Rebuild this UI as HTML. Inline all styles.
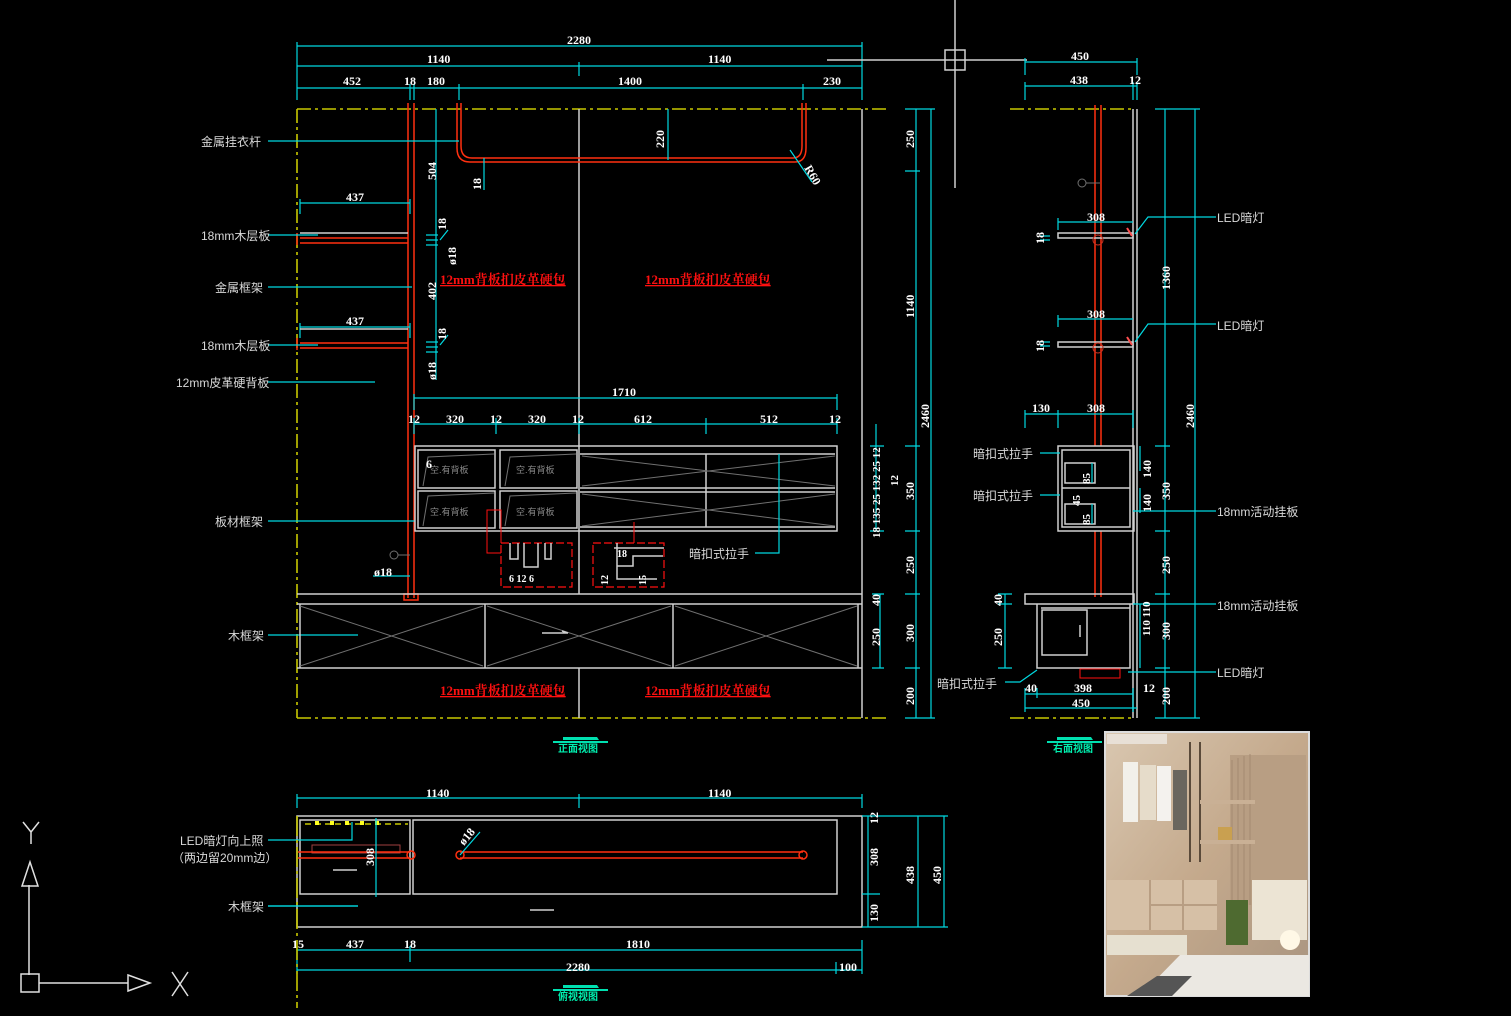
<!DOCTYPE html>
<html><head><meta charset="utf-8"><style>
html,body{margin:0;padding:0;background:#000;}
svg{display:block}
text{font-family:"Liberation Serif","Noto Serif CJK SC",serif;}
.n{fill:#fff;font-size:12px;font-weight:bold;}
.l{fill:#d8d8d8;font-size:12px;font-family:"Liberation Sans","Noto Sans CJK SC",sans-serif;}
.r{fill:#ff1010;font-size:13px;font-weight:bold;text-decoration:underline;}
.c{stroke:#00d8e0;stroke-width:1.2;fill:none}
.w{stroke:#d0d0d0;stroke-width:1.5;fill:none}
.g{stroke:#707070;stroke-width:1;fill:none}
.rd{stroke:#ff3010;stroke-width:1.5;fill:none}
.y{stroke:#c8c800;stroke-width:1.6;fill:none;stroke-dasharray:14 4 3 4}
.t{fill:#00f0b0;font-size:10px;font-weight:bold;font-family:"Liberation Sans","Noto Sans CJK SC",sans-serif;}
</style></head><body>
<svg width="1511" height="1016" viewBox="0 0 1511 1016" xmlns="http://www.w3.org/2000/svg">
<rect width="1511" height="1016" fill="#000"/>

<!-- ===== FRONT VIEW ===== -->
<!-- top dims -->
<g class="c">
<path d="M297 46H862M297 66H862M297 88H862"/>
<path d="M297 42V100M862 42V100M579 62V76M410 84V100M414 84V100M459 84V100M803 84V100"/>
</g>
<text class="n" x="567" y="44">2280</text>
<text class="n" x="427" y="63">1140</text><text class="n" x="708" y="63">1140</text>
<text class="n" x="343" y="85">452</text><text class="n" x="404" y="85">18</text><text class="n" x="427" y="85">180</text>
<text class="n" x="618" y="85">1400</text><text class="n" x="823" y="85">230</text>

<!-- outline -->
<path class="y" d="M297 109H887M297 109V718M297 718H887"/>
<path class="w" d="M862 109V718M579 109V594M579 668V718"/>
<!-- metal pole -->
<path class="rd" d="M408 103V598M414 103V598"/>
<path class="rd" d="M404 594h14v6h-14z"/>
<!-- rod -->
<path class="rd" d="M457 103V148Q457 162 470 162H795Q806 162 806 148V103M461 103V146Q461 158 472 158H793Q802 158 802 146V103"/>
<path class="c" d="M436 109V380M668 109V160M484 158V190M790 150L812 182"/>
<text class="n" transform="translate(436 180) rotate(-90)">504</text>
<text class="n" transform="translate(664 148) rotate(-90)">220</text>
<text class="n" transform="translate(481 190) rotate(-90)">18</text>
<text class="n" transform="translate(804 168) rotate(60)">R60</text>
<text class="n" transform="translate(436 300) rotate(-90)">402</text>
<!-- shelves -->
<g class="c"><path d="M300 203H410M300 199V214M410 199V214M300 327H410M300 323V338M410 323V338"/></g>
<text class="n" x="346" y="201">437</text><text class="n" x="346" y="325">437</text>
<path class="w" d="M300 233H408M300 329H408" />
<path class="rd" d="M300 238H408M300 243H408M300 343H408M300 348H408M297 233v12M297 338v12"/>
<g class="c"><path d="M426 235h12M426 240h12M426 245h12M426 347h12M426 352h12M426 342h12M440 240l8 -10M440 345l8 -10"/></g>
<text class="n" transform="translate(446 230) rotate(-90)">18</text>
<text class="n" transform="translate(456 265) rotate(-90)">ø18</text>
<text class="n" transform="translate(446 340) rotate(-90)">18</text>
<text class="n" transform="translate(436 380) rotate(-90)">ø18</text>
<text class="r" x="440" y="284">12mm背板扪皮革硬包</text>
<text class="r" x="645" y="284">12mm背板扪皮革硬包</text>

<!-- left labels -->
<g class="c"><path d="M268 141H459M268 235H318M268 287H412M268 345H318M268 382H375M268 521H415M268 635H358M268 906H358"/></g>
<text class="l" x="201" y="146">金属挂衣杆</text>
<text class="l" x="201" y="240">18mm木层板</text>
<text class="l" x="215" y="292">金属框架</text>
<text class="l" x="201" y="350">18mm木层板</text>
<text class="l" x="176" y="387">12mm皮革硬背板</text>
<text class="l" x="215" y="526">板材框架</text>
<text class="l" x="228" y="640">木框架</text>

<!-- cabinet dims -->
<g class="c"><path d="M414 398H837M414 394V410M837 394V410M414 424H837M414 418V434M496 418V434M579 418V434M706 418V434M837 418V434"/></g>
<text class="n" x="612" y="396">1710</text>
<text class="n" x="408" y="423">12</text><text class="n" x="446" y="423">320</text><text class="n" x="490" y="423">12</text>
<text class="n" x="528" y="423">320</text><text class="n" x="572" y="423">12</text><text class="n" x="634" y="423">612</text>
<text class="n" x="760" y="423">512</text><text class="n" x="829" y="423">12</text>
<!-- cabinet -->
<rect class="w" x="415" y="446" width="422" height="85"/>
<rect class="w" x="418" y="450" width="77" height="38"/><rect class="w" x="500" y="450" width="77" height="38"/>
<rect class="w" x="418" y="491" width="77" height="37"/><rect class="w" x="500" y="491" width="77" height="37"/>
<path class="w" d="M580 454H835M580 488H835M580 492H835M580 527H835M706 454V527"/>
<g class="g"><path d="M582 456L835 486M582 486L835 456M582 494L835 526M582 526L835 494M423 486L428 457L494 454M505 486L510 457L576 454M423 526L428 496L494 493M505 526L510 496L576 493"/></g>
<text class="l" x="430" y="473" style="font-size:9px;fill:#888">空.有背板</text><text class="l" x="516" y="473" style="font-size:9px;fill:#888">空.有背板</text>
<text class="l" x="430" y="515" style="font-size:9px;fill:#888">空.有背板</text><text class="l" x="516" y="515" style="font-size:9px;fill:#888">空.有背板</text>
<text class="n" x="426" y="468">6</text>
<!-- details -->
<path d="M501 543h71v44h-71z" stroke="#ff1010" stroke-width="1.2" fill="none" stroke-dasharray="8 3"/>
<path d="M593 543h71v44h-71z" stroke="#ff1010" stroke-width="1.2" fill="none" stroke-dasharray="8 3"/>
<path d="M501 543V510H487M501 553H487V510H496" stroke="#ff1010" fill="none"/>
<path d="M634 543V522" stroke="#ff1010"/>
<path class="w" d="M510 543v16h8v-16M524 543v24h14v-24M545 543v16h6v-16M617 543v36h40M617 566h16v-10h30M614 548h50"/>
<text class="n" x="509" y="582" style="font-size:10px">6 12 6</text>
<text class="n" x="617" y="557" style="font-size:10px">18</text>
<text class="n" transform="translate(608 585) rotate(-90)" style="font-size:10px">12</text>
<text class="n" transform="translate(646 585) rotate(-90)" style="font-size:10px">15</text>
<path class="c" d="M755 553H779V454"/>
<text class="l" x="689" y="558">暗扣式拉手</text>
<circle cx="394" cy="555" r="4" class="g"/><path class="g" d="M398 555h12"/>
<path class="c" d="M373 576H410"/><text class="n" x="374" y="576">ø18</text>
<!-- base -->
<path class="w" d="M297 594H862M297 604H862M300 604V668M485 604V668M673 604V668M858 604V668M297 668H862"/>
<g class="g"><path d="M300 606L483 666M300 666L483 606M487 606L671 666M487 666L671 606M675 606L857 666M675 666L857 606"/></g>
<path class="w" d="M542 633h26M562 631l6 2" stroke-width="1"/>
<text class="r" x="440" y="695">12mm背板扪皮革硬包</text>
<text class="r" x="645" y="695">12mm背板扪皮革硬包</text>
<!-- right dims front -->
<g class="c"><path d="M916 109V718M931 109V718M905 109H935M905 171H920M905 446H920M905 531H920M905 594H920M905 668H920M905 718H935M880 594V668M872 594H884M872 668H884M876 424V531M870 446H884M870 531H884"/></g>
<text class="n" transform="translate(914 148) rotate(-90)">250</text>
<text class="n" transform="translate(914 318) rotate(-90)">1140</text>
<text class="n" transform="translate(929 428) rotate(-90)">2460</text>
<text class="n" transform="translate(914 500) rotate(-90)">350</text>
<text class="n" transform="translate(914 574) rotate(-90)">250</text>
<text class="n" transform="translate(914 642) rotate(-90)">300</text>
<text class="n" transform="translate(914 705) rotate(-90)">200</text>
<text class="n" transform="translate(880 538) rotate(-90)" style="font-size:11px">18 135 25 132 25 12</text>
<text class="n" transform="translate(898 486) rotate(-90)" style="font-size:11px">12</text>
<text class="n" transform="translate(880 606) rotate(-90)">40</text>
<text class="n" transform="translate(880 646) rotate(-90)">250</text>
<!-- title -->
<path d="M563 737h34l2 3h-36z" fill="#00e0b0"/><path d="M553 742h55" stroke="#00e0b0" stroke-width="2"/>
<text class="t" x="558" y="752">正面视图</text>

<!-- crosshair -->
<path class="w" d="M955 0V188M827 60H1027" stroke-width="1.2"/>
<rect class="w" x="945" y="50" width="20" height="20"/>

<!-- ===== SIDE VIEW ===== -->
<g class="c"><path d="M1025 62H1137M1025 86H1137M1025 58V75M1137 58V75M1025 82V100M1133 82V100M1137 82V100"/></g>
<text class="n" x="1071" y="60">450</text><text class="n" x="1070" y="84">438</text><text class="n" x="1129" y="84">12</text>
<path class="y" d="M1010 109H1135M1010 718H1135"/>
<path class="w" d="M1133 109V718M1137 109V718"/>
<path class="rd" d="M1095 105V446M1101 105V446M1095 531V597M1101 531V597"/>
<circle cx="1082" cy="183" r="4" class="g"/><path class="g" d="M1086 183h14"/>
<g class="c"><path d="M1058 222H1133M1058 218V230M1058 319H1133M1058 315V327M1040 236h10M1040 240h10M1040 346h10M1040 342h10"/></g>
<text class="n" x="1087" y="221">308</text><text class="n" x="1087" y="318">308</text>
<text class="n" transform="translate(1044 244) rotate(-90)">18</text><text class="n" transform="translate(1044 352) rotate(-90)">18</text>
<rect class="w" x="1058" y="233" width="75" height="5"/><rect class="w" x="1058" y="342" width="75" height="5"/>
<circle cx="1098" cy="240" r="5" stroke="#c03020" fill="none"/><circle cx="1098" cy="348" r="5" stroke="#c03020" fill="none"/>
<path d="M1127 228l5 8M1127 337l5 8" stroke="#ff5050" stroke-width="2"/>
<path class="c" d="M1135 234L1148 217H1216M1135 342L1148 324H1216"/>
<text class="l" x="1217" y="222">LED暗灯</text><text class="l" x="1217" y="330">LED暗灯</text>
<g class="c"><path d="M1165 109V718M1195 109V718M1155 109H1200M1155 446H1170M1155 531H1170M1155 594H1170M1155 668H1170M1155 718H1200"/></g>
<text class="n" transform="translate(1170 290) rotate(-90)">1360</text>
<text class="n" transform="translate(1194 428) rotate(-90)">2460</text>
<text class="n" transform="translate(1170 500) rotate(-90)">350</text>
<text class="n" transform="translate(1170 574) rotate(-90)">250</text>
<text class="n" transform="translate(1170 640) rotate(-90)">300</text>
<text class="n" transform="translate(1170 705) rotate(-90)">200</text>
<g class="c"><path d="M1025 414H1133M1025 410V428M1058 410V428M1133 410V428"/></g>
<text class="n" x="1032" y="412">130</text><text class="n" x="1087" y="412">308</text>
<rect class="w" x="1058" y="446" width="76" height="85"/>
<path class="w" d="M1062 450H1130V527H1062ZM1062 488H1130M1065 463h30v20h-30zM1065 504h30v20h-30z" stroke-width="1"/>
<g class="c"><path d="M1140 446v25M1140 488v25M1133 511H1216M1092 463v20M1092 504v20"/></g>
<text class="n" transform="translate(1151 478) rotate(-90)">140</text><text class="n" transform="translate(1151 512) rotate(-90)">140</text>
<text class="n" transform="translate(1090 484) rotate(-90)" style="font-size:11px">85</text>
<text class="n" transform="translate(1090 525) rotate(-90)" style="font-size:11px">85</text>
<text class="n" transform="translate(1080 506) rotate(-90)" style="font-size:11px">45</text>
<path class="c" d="M1040 453H1060M1040 495H1060"/>
<text class="l" x="973" y="458">暗扣式拉手</text><text class="l" x="973" y="500">暗扣式拉手</text>
<text class="l" x="1217" y="516">18mm活动挂板</text>
<rect class="w" x="1025" y="594" width="109" height="10"/>
<path class="w" d="M1037 604V668H1130V604M1041 608H1130M1042 610h45v45h-45z" stroke-width="1"/>
<path class="w" d="M1080 625v12" stroke-width="1"/>
<rect x="1080" y="669" width="40" height="9" fill="none" stroke="#ff1010"/>
<g class="c"><path d="M1133 604H1216M1128 672H1216M1005 594V668M998 594H1012M998 604H1012M998 668H1012M1140 604v64"/></g>
<text class="l" x="1217" y="610">18mm活动挂板</text><text class="l" x="1217" y="677">LED暗灯</text>
<text class="n" transform="translate(1002 606) rotate(-90)">40</text>
<text class="n" transform="translate(1002 646) rotate(-90)">250</text>
<text class="n" transform="translate(1150 636) rotate(-90)" style="font-size:11px">110 110</text>
<path class="c" d="M1037 670L1020 682H1005"/><text class="l" x="937" y="688">暗扣式拉手</text>
<g class="c"><path d="M1025 694H1133M1025 708H1137M1025 688V712M1037 688V698M1133 688V712"/></g>
<text class="n" x="1025" y="692">40</text><text class="n" x="1074" y="692">398</text><text class="n" x="1143" y="692">12</text><text class="n" x="1072" y="707">450</text>
<path d="M1057 737h34l2 3h-36z" fill="#00e0b0"/><path d="M1047 742h55" stroke="#00e0b0" stroke-width="2"/>
<text class="t" x="1053" y="752">右面视图</text>

<!-- ===== PLAN VIEW ===== -->
<g class="c"><path d="M297 798H862M297 794V808M579 794V808M862 794V808"/></g>
<text class="n" x="426" y="797">1140</text><text class="n" x="708" y="797">1140</text>
<path class="w" d="M297 816H862V927H297Z"/>
<path class="w" d="M300 820H410V894H300ZM413 820H837V894H413Z" stroke-width="1.2"/>
<path d="M305 824H408" stroke="#c8c800" stroke-width="1.5" stroke-dasharray="6 4"/>
<g fill="#ffff20"><rect x="315" y="821" width="4" height="4"/><rect x="330" y="821" width="4" height="4"/><rect x="345" y="821" width="4" height="4"/><rect x="360" y="821" width="4" height="4"/><rect x="375" y="821" width="4" height="4"/></g>
<rect x="312" y="845" width="88" height="8" stroke="#a04040" fill="none"/>
<path class="rd" d="M298 852H410M298 858H410M460 852H803M460 858H803"/>
<circle cx="411" cy="855" r="4" class="rd"/><circle cx="460" cy="855" r="4" class="rd"/><circle cx="803" cy="855" r="4" class="rd"/>
<path class="c" d="M376 818V897M460 855L480 832M268 840H352V822M268 906H358M868 816V927M918 816V927M944 816V927M862 816H948M862 894H880M862 927H948"/>
<text class="n" transform="translate(464 846) rotate(-50)">ø18</text>
<text class="n" transform="translate(374 866) rotate(-90)">308</text>
<text class="l" x="180" y="845">LED暗灯向上照</text><text class="l" x="172" y="862">（两边留20mm边）</text>
<text class="l" x="228" y="911">木框架</text>
<path class="w" d="M333 870h24M530 910h24" stroke-width="1"/>
<text class="n" transform="translate(878 824) rotate(-90)">12</text>
<text class="n" transform="translate(878 866) rotate(-90)">308</text>
<text class="n" transform="translate(878 922) rotate(-90)">130</text>
<text class="n" transform="translate(914 884) rotate(-90)">438</text>
<text class="n" transform="translate(941 884) rotate(-90)">450</text>
<g class="c"><path d="M297 950H862M297 946V962M410 946V962M862 940V962M297 970H862M297 962V974M836 962V974M862 962V974"/></g>
<text class="n" x="292" y="948">15</text><text class="n" x="346" y="948">437</text><text class="n" x="404" y="948">18</text><text class="n" x="626" y="948">1810</text>
<text class="n" x="566" y="971">2280</text><text class="n" x="839" y="971">100</text>
<path class="y" d="M297 816V1008" style="stroke-dasharray:20 4 3 4"/>
<path d="M563 985h34l2 3h-36z" fill="#00e0b0"/><path d="M553 990h55" stroke="#00e0b0" stroke-width="2"/>
<text class="t" x="558" y="1000">俯视视图</text>

<!-- axis icon -->
<g stroke="#e0e0e0" stroke-width="1.5" fill="none">
<path d="M29 975V885M39 983H128M23 822l8 10 8-10M31 832v12M22 886h16L30 862ZM128 975v16l22-8ZM172 972l16 24M188 972l-16 24"/>
<rect x="21" y="974" width="18" height="18"/>
</g>

<!-- photo -->
<defs>
<linearGradient id="pg" x1="0" y1="0" x2="1" y2="1">
<stop offset="0" stop-color="#d9c7b0"/><stop offset="0.5" stop-color="#c4a98c"/><stop offset="1" stop-color="#a89480"/>
</linearGradient>
</defs>
<rect x="1105" y="732" width="204" height="264" fill="url(#pg)" stroke="#ddd" stroke-width="2"/>
<rect x="1107" y="734" width="60" height="10" fill="#e8e0d6"/>
<rect x="1230" y="755" width="76" height="150" fill="#b89e83"/>
<path d="M1232 760v145M1238 758v147M1244 756v149M1250 754v151" stroke="#a48b72" stroke-width="1"/>
<rect x="1123" y="762" width="15" height="60" fill="#f2f0ea"/>
<rect x="1140" y="765" width="16" height="55" fill="#e6dcca"/>
<rect x="1157" y="766" width="14" height="55" fill="#f4f2ee"/>
<rect x="1173" y="770" width="14" height="60" fill="#6a665e"/>
<path d="M1190 742v120M1200 742v120" stroke="#5a4a3a" stroke-width="2"/>
<rect x="1200" y="800" width="55" height="4" fill="#c9b095"/>
<rect x="1200" y="840" width="55" height="4" fill="#c9b095"/>
<rect x="1218" y="827" width="14" height="13" fill="#c9a050"/>
<rect x="1107" y="880" width="110" height="50" fill="#d6c0a6"/>
<path d="M1150 880v50M1183 880v50M1150 905h67" stroke="#b89e83" stroke-width="2"/>
<rect x="1107" y="935" width="80" height="20" fill="#e6e0d0"/>
<rect x="1226" y="900" width="22" height="45" fill="#4e6a30"/>
<rect x="1252" y="880" width="55" height="60" fill="#ece4d4"/>
<circle cx="1290" cy="940" r="10" fill="#fff8e6"/>
<path d="M1140 996L1180 955H1309V996Z" fill="#ebe8e2"/>
<path d="M1127 996l30-20h35l-20 20z" fill="#555"/>
</svg>
</body></html>
